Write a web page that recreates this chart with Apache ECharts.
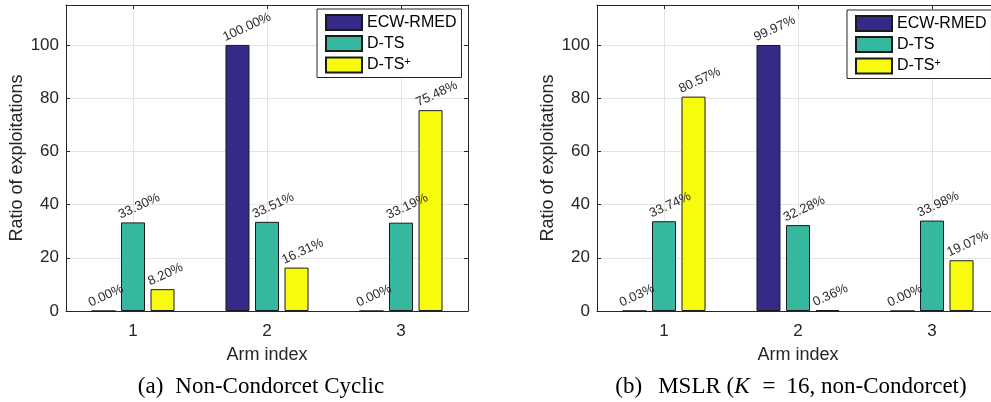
<!DOCTYPE html>
<html><head><meta charset="utf-8">
<script src="https://cdn.jsdelivr.net/npm/echarts@6/dist/echarts.min.js"></script>
<style>html,body{margin:0;padding:0;background:#fff}#c{width:991px;height:402px}</style>
</head><body><div id="c"></div>
<script>
// ---- data ----
const categories = ['1', '2', '3'];
const seriesNames = ['ECW-RMED', 'D-TS', 'D-TS+'];
const leftEcw = [0.00, 100.00, 0.00];
const leftDts = [33.30, 33.51, 33.19];
const leftDtsPlus = [8.20, 16.31, 75.48];
const rightEcw = [0.03, 99.97, 0.00];
const rightDts = [33.74, 32.28, 33.98];
const rightDtsPlus = [80.57, 0.36, 19.07];
const yMin = 0, yMax = 115, yStep = 20;
const captionA = ['(a)', 'Non-Condorcet Cyclic'];
const captionB = ['(b)', 'MSLR (', 'K', '=', '16, non-Condorcet)'];

// ---- styles ----
const colors = ['#352A87', '#36B89E', '#F9FB0E'];
const axisColor = '#262626';
const gridColor = '#e4e4e4';
const sans = 'Liberation Sans, Arial, Helvetica, sans-serif';
const serif = 'Liberation Serif, Times New Roman, serif';

const chart = echarts.init(document.getElementById('c'));

function grid(left) {
  return { left: left, top: 5, width: 402, height: 306, outerBoundsMode: 'none', containLabel: false };
}
function catAxis(gi) {
  return {
    type: 'category', gridIndex: gi, data: categories, position: 'bottom',
    axisLine: { show: true, lineStyle: { color: axisColor, width: 1 } },
    axisTick: { show: true, inside: true, alignWithLabel: true, length: 4, lineStyle: { color: axisColor } },
    axisLabel: { fontSize: 17, color: axisColor, margin: 12, fontFamily: sans },
    splitLine: { show: false },
    name: 'Arm index', nameLocation: 'middle', nameGap: 35,
    nameTextStyle: { fontSize: 18, color: axisColor, fontFamily: sans }
  };
}
function topAxis(gi) {
  return {
    type: 'value', gridIndex: gi, position: 'top', min: 0.5, max: 3.5, minInterval: 1, maxInterval: 1,
    axisLine: { show: true, onZero: false, lineStyle: { color: axisColor, width: 1 } },
    axisTick: { show: true, inside: true, length: 4, lineStyle: { color: axisColor } },
    axisLabel: { show: false },
    splitLine: { show: true, lineStyle: { color: gridColor, width: 1 } }
  };
}
function leftY(gi) {
  return {
    type: 'value', gridIndex: gi, position: 'left', min: yMin, max: yMax, interval: yStep,
    axisLine: { show: true, onZero: false, lineStyle: { color: axisColor, width: 1 } },
    axisTick: { show: true, inside: true, length: 4, lineStyle: { color: axisColor } },
    axisLabel: { fontSize: 17, color: axisColor, margin: 7, fontFamily: sans, showMaxLabel: false },
    splitLine: { show: true, lineStyle: { color: gridColor, width: 1 } },
    name: 'Ratio of exploitations', nameLocation: 'middle', nameGap: 40,
    nameTextStyle: { fontSize: 18, color: axisColor, fontFamily: sans }
  };
}
function rightY(gi) {
  return {
    type: 'value', gridIndex: gi, position: 'right', min: yMin, max: yMax, interval: yStep,
    axisLine: { show: true, onZero: false, lineStyle: { color: axisColor, width: 1 } },
    axisTick: { show: true, inside: true, length: 4, lineStyle: { color: axisColor } },
    axisLabel: { show: false },
    splitLine: { show: false }
  };
}
function legend(left, top) {
  return {
    orient: 'vertical', left: left, top: top, data: seriesNames,
    itemWidth: 36, itemHeight: 15, itemGap: 4, itemTextGap: 5,
    padding: [5, 5, 4, 8], backgroundColor: '#fff', borderColor: axisColor, borderWidth: 1,
    borderRadius: 0, selectedMode: false, icon: 'rect',
    formatter: function (n) { return n === 'D-TS+' ? '{n|D-TS}{s|+}' : '{n|' + n + '}'; },
    textStyle: {
      color: '#000', fontFamily: sans, fontSize: 16,
      rich: {
        n: { fontSize: 16, fontFamily: sans, color: '#000', lineHeight: 18 },
        s: { fontSize: 11, fontFamily: sans, color: '#000', verticalAlign: 'top', lineHeight: 11 }
      }
    }
  };
}
function bar(name, data, idx, gi) {
  return {
    type: 'bar', name: name, data: data, xAxisIndex: gi * 2, yAxisIndex: gi * 2,
    barWidth: 24, barGap: '23%',
    itemStyle: { color: colors[idx], borderColor: '#1a1a1a', borderWidth: 1 },
    label: {
      show: true, position: [1, -1], align: 'left', verticalAlign: 'bottom', rotate: 25,
      fontSize: 13, color: '#2b2b2b', fontFamily: sans,
      formatter: function (p) { return p.value.toFixed(2) + '%'; }
    },
    emphasis: { disabled: true }
  };
}

const serifStyle = function (extra) {
  return Object.assign({ fontSize: 23, fontFamily: serif, color: '#000' }, extra || {});
};

const option = {
  animation: false,
  backgroundColor: '#fff',
  grid: [grid(66), grid(597)],
  xAxis: [catAxis(0), topAxis(0), catAxis(1), topAxis(1)],
  yAxis: [leftY(0), rightY(0), leftY(1), rightY(1)],
  legend: [legend(317, 9), legend(847, 10)],
  series: [
    bar(seriesNames[0], leftEcw, 0, 0),
    bar(seriesNames[1], leftDts, 1, 0),
    bar(seriesNames[2], leftDtsPlus, 2, 0),
    bar(seriesNames[0], rightEcw, 0, 1),
    bar(seriesNames[1], rightDts, 1, 1),
    bar(seriesNames[2], rightDtsPlus, 2, 1)
  ],
  graphic: [
    {
      type: 'text', x: 261, y: 387,
      style: {
        text: '{p|' + captionA[0] + '}{t|' + captionA[1] + '}',
        align: 'center', verticalAlign: 'middle',
        rich: { p: serifStyle({ padding: [0, 12, 0, 0] }), t: serifStyle() }
      }
    },
    {
      type: 'text', x: 791, y: 387,
      style: {
        text: '{p|' + captionB[0] + '}{t|' + captionB[1] + '}{i|' + captionB[2] + '}{e|' + captionB[3] + '}{t|' + captionB[4] + '}',
        align: 'center', verticalAlign: 'middle',
        rich: {
          p: serifStyle({ padding: [0, 16, 0, 0] }),
          t: serifStyle(),
          i: serifStyle({ fontStyle: 'italic', padding: [0, 2, 0, 0] }),
          e: serifStyle({ padding: [0, 11, 0, 11] })
        }
      }
    }
  ]
};
chart.setOption(option);
</script>
</body></html>
